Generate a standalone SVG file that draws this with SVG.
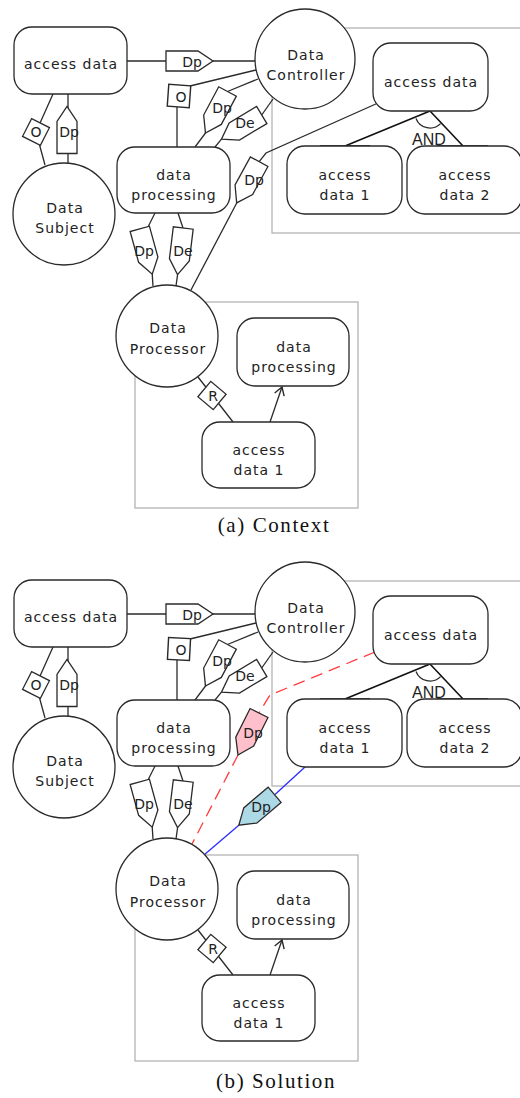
<svg xmlns="http://www.w3.org/2000/svg" xmlns:xlink="http://www.w3.org/1999/xlink" width="520" height="1098" viewBox="0 0 520 1098">
<defs>
<style>
.bnd{fill:none;stroke:#b4b4b4;stroke-width:1.3}
.nd{fill:#fff;stroke:#2a2a2a;stroke-width:1.3}
.ln{fill:none;stroke:#2a2a2a;stroke-width:1.3}
.andl{fill:none;stroke:#111;stroke-width:1.6}
.red{fill:none;stroke:#ff3b3b;stroke-width:1.3;stroke-dasharray:12 7}
.blue{fill:none;stroke:#2b2bff;stroke-width:1.3}
.pk{fill:#ffc0cb;stroke:#2a2a2a;stroke-width:1.3}
.lb{fill:#add8e6;stroke:#2a2a2a;stroke-width:1.3}
.lbl{font-family:"DejaVu Sans",sans-serif;font-size:14px;letter-spacing:1px;fill:#222;text-anchor:middle}
.dl{font-family:"DejaVu Sans",sans-serif;font-size:14px;fill:#222;text-anchor:middle}
.and{font-family:"Liberation Sans",sans-serif;font-size:16px;fill:#222;text-anchor:middle}
.cap{font-family:"Liberation Serif",serif;font-size:21px;letter-spacing:1.6px;fill:#111;text-anchor:middle}
</style>
<polygon id="pent" points="-23.5,-10 8.5,-10 23.5,0 8.5,10 -23.5,10"/>
<rect id="sq" x="-10" y="-10" width="20" height="20"/>
<marker id="open" viewBox="-10 -6 12 12" refX="0" refY="0" markerWidth="12" markerHeight="12" markerUnits="userSpaceOnUse" orient="auto">
<path d="M-8,-5 L0,0 L-8,5" fill="none" stroke="#2a2a2a" stroke-width="1.4"/>
</marker>
</defs>
<rect width="520" height="1098" fill="#fff"/>

<!-- ===== Diagram (a) ===== -->
<g id="diagram-a">
<g id="a-boundaries">
<rect class="bnd" x="272" y="28" width="260" height="205"/>
<rect class="bnd" x="135" y="302" width="223" height="206"/>
</g>
<g id="a-connectors">
<line class="ln" x1="127" y1="61" x2="255" y2="61"/>
<polyline class="ln" points="53,94 36,132 45,165"/>
<line class="ln" x1="68" y1="94" x2="68" y2="165"/>
<line class="ln" x1="177" y1="147" x2="177" y2="107"/>
<line class="ln" x1="190" y1="86" x2="256" y2="70"/>
<line class="ln" x1="195" y1="147" x2="205.5" y2="133"/>
<line class="ln" x1="227.5" y1="91.5" x2="258" y2="79"/>
<line class="ln" x1="215" y1="147" x2="221.5" y2="139.2"/>
<line class="ln" x1="261.7" y1="115" x2="273" y2="99"/>
<line class="ln" x1="236.7" y1="203" x2="191" y2="290"/>
<polyline class="ln" points="259.2,161.7 266,153 378,103"/>
<line class="ln" x1="155" y1="213" x2="148" y2="227"/>
<line class="ln" x1="152.2" y1="274.1" x2="153" y2="286"/>
<line class="ln" x1="178" y1="213" x2="183" y2="228"/>
<line class="ln" x1="177.6" y1="274.7" x2="176" y2="286"/>
<line class="andl" x1="430" y1="111" x2="345" y2="146"/>
<line class="andl" x1="430" y1="111" x2="463" y2="146"/>
<line class="andl" x1="320" y1="146" x2="370" y2="146"/>
<line class="andl" x1="437" y1="146" x2="488" y2="146"/>
<path class="ln" d="M416,118.4 A15,15 0 0 0 440.6,123.6"/>
<line class="ln" x1="198" y1="377" x2="233" y2="422"/>
<line class="ln" x1="270" y1="422" x2="282" y2="387" marker-end="url(#open)"/>
</g>
<g id="a-access-data"><rect class="nd" x="14" y="27" width="113" height="67" rx="18"/><text class="lbl" x="71" y="69">access data</text></g>
<g id="a-data-subject"><circle class="nd" cx="64" cy="214" r="51"/><text class="lbl" x="65" y="213">Data</text><text class="lbl" x="65" y="233">Subject</text></g>
<g id="a-data-controller"><circle class="nd" cx="305" cy="59" r="50"/><text class="lbl" x="306" y="60">Data</text><text class="lbl" x="306" y="80">Controller</text></g>
<g id="a-data-processing"><rect class="nd" x="117" y="147" width="113" height="66" rx="18"/><text class="lbl" x="174" y="180">data</text><text class="lbl" x="174" y="200">processing</text></g>
<g id="a-access-data-r"><rect class="nd" x="373" y="43" width="115" height="68" rx="18"/><text class="lbl" x="431" y="87">access data</text></g>
<g id="a-access-data-1"><rect class="nd" x="287" y="146" width="115" height="68" rx="18"/><text class="lbl" x="345" y="180">access</text><text class="lbl" x="345" y="200">data 1</text></g>
<g id="a-access-data-2"><rect class="nd" x="407" y="146" width="115" height="68" rx="18"/><text class="lbl" x="465" y="180">access</text><text class="lbl" x="465" y="200">data 2</text></g>
<g id="a-and"><text class="and" x="429" y="145">AND</text></g>
<g id="a-data-processor"><circle class="nd" cx="167" cy="336" r="51"/><text class="lbl" x="168" y="333">Data</text><text class="lbl" x="168" y="354">Processor</text></g>
<g id="a-data-processing-p"><rect class="nd" x="237" y="318" width="112" height="68" rx="18"/><text class="lbl" x="294" y="352">data</text><text class="lbl" x="294" y="372">processing</text></g>
<g id="a-access-data-1-p"><rect class="nd" x="202" y="422" width="113" height="66" rx="18"/><text class="lbl" x="259" y="455">access</text><text class="lbl" x="259" y="475">data 1</text></g>
<g id="a-dep-dp-h"><use href="#pent" class="nd" transform="translate(189.5,61)"/><text class="dl" x="192" y="67">Dp</text></g>
<g id="a-dep-dp-ds"><use href="#pent" class="nd" transform="translate(67,130) rotate(-90)"/><text class="dl" x="69" y="137">Dp</text></g>
<g id="a-dep-o-ds"><use href="#sq" class="nd" transform="translate(36,132) rotate(27)"/><text class="dl" x="36" y="137">O</text></g>
<g id="a-dep-o-dp"><use href="#sq" class="nd" transform="translate(179,96) rotate(4) scale(1.1)"/><text class="dl" x="181" y="102">O</text></g>
<g id="a-dep-dp-c"><use href="#pent" class="nd" transform="translate(216.5,112.2) rotate(118)"/><text class="dl" x="222" y="113">Dp</text></g>
<g id="a-dep-de-c"><use href="#pent" class="nd" transform="translate(241.6,127.1) rotate(149)"/><text class="dl" x="245" y="128">De</text></g>
<g id="a-dep-dp-ad"><use href="#pent" class="nd" transform="translate(247.9,182.3) rotate(118.6)"/><text class="dl" x="254" y="185">Dp</text></g>
<g id="a-dep-dp-b"><use href="#pent" class="nd" transform="translate(146,251.5) rotate(74.6)"/><text class="dl" x="144" y="256">Dp</text></g>
<g id="a-dep-de-b"><use href="#pent" class="nd" transform="translate(180.4,251.3) rotate(97)"/><text class="dl" x="183" y="256">De</text></g>
<g id="a-dep-r"><use href="#sq" class="nd" transform="translate(212,395.5) rotate(40)"/><text class="dl" x="213" y="401">R</text></g>
</g>
<text class="cap" x="274" y="532">(a) Context</text>

<!-- ===== Diagram (b) ===== -->
<g id="diagram-b" transform="translate(0,553)">
<g id="b-boundaries">
<rect class="bnd" x="272" y="28" width="260" height="205"/>
<rect class="bnd" x="135" y="302" width="223" height="206"/>
</g>
<g id="b-connectors">
<line class="ln" x1="127" y1="61" x2="255" y2="61"/>
<polyline class="ln" points="53,94 36,132 45,165"/>
<line class="ln" x1="68" y1="94" x2="68" y2="165"/>
<line class="ln" x1="177" y1="147" x2="177" y2="107"/>
<line class="ln" x1="190" y1="86" x2="256" y2="70"/>
<line class="ln" x1="195" y1="147" x2="205.5" y2="133"/>
<line class="ln" x1="227.5" y1="91.5" x2="258" y2="79"/>
<line class="ln" x1="215" y1="147" x2="221.5" y2="139.2"/>
<line class="ln" x1="261.7" y1="115" x2="273" y2="99"/>
<line class="ln" x1="155" y1="213" x2="148" y2="227"/>
<line class="ln" x1="152.2" y1="274.1" x2="153" y2="286"/>
<line class="ln" x1="178" y1="213" x2="183" y2="228"/>
<line class="ln" x1="177.6" y1="274.7" x2="176" y2="286"/>
<line class="andl" x1="430" y1="111" x2="345" y2="146"/>
<line class="andl" x1="430" y1="111" x2="463" y2="146"/>
<line class="andl" x1="320" y1="146" x2="370" y2="146"/>
<line class="andl" x1="437" y1="146" x2="488" y2="146"/>
<path class="ln" d="M416,118.4 A15,15 0 0 0 440.6,123.6"/>
<line class="ln" x1="198" y1="377" x2="233" y2="422"/>
<line class="ln" x1="270" y1="422" x2="282" y2="387" marker-end="url(#open)"/>
<polyline class="red" points="375,99 270,142 259,160"/>
<line class="red" x1="238" y1="202" x2="192" y2="291"/>
<line class="blue" x1="305" y1="214" x2="275" y2="241.5"/>
<line class="blue" x1="238.8" y1="272.2" x2="204" y2="302"/>
</g>
<g id="b-access-data"><rect class="nd" x="14" y="27" width="113" height="67" rx="18"/><text class="lbl" x="71" y="69">access data</text></g>
<g id="b-data-subject"><circle class="nd" cx="64" cy="214" r="51"/><text class="lbl" x="65" y="213">Data</text><text class="lbl" x="65" y="233">Subject</text></g>
<g id="b-data-controller"><circle class="nd" cx="305" cy="59" r="50"/><text class="lbl" x="306" y="60">Data</text><text class="lbl" x="306" y="80">Controller</text></g>
<g id="b-data-processing"><rect class="nd" x="117" y="147" width="113" height="66" rx="18"/><text class="lbl" x="174" y="180">data</text><text class="lbl" x="174" y="200">processing</text></g>
<g id="b-access-data-r"><rect class="nd" x="373" y="43" width="115" height="68" rx="18"/><text class="lbl" x="431" y="87">access data</text></g>
<g id="b-access-data-1"><rect class="nd" x="287" y="146" width="115" height="68" rx="18"/><text class="lbl" x="345" y="180">access</text><text class="lbl" x="345" y="200">data 1</text></g>
<g id="b-access-data-2"><rect class="nd" x="407" y="146" width="115" height="68" rx="18"/><text class="lbl" x="465" y="180">access</text><text class="lbl" x="465" y="200">data 2</text></g>
<g id="b-and"><text class="and" x="429" y="145">AND</text></g>
<g id="b-data-processor"><circle class="nd" cx="167" cy="336" r="51"/><text class="lbl" x="168" y="333">Data</text><text class="lbl" x="168" y="354">Processor</text></g>
<g id="b-data-processing-p"><rect class="nd" x="237" y="318" width="112" height="68" rx="18"/><text class="lbl" x="294" y="352">data</text><text class="lbl" x="294" y="372">processing</text></g>
<g id="b-access-data-1-p"><rect class="nd" x="202" y="422" width="113" height="66" rx="18"/><text class="lbl" x="259" y="455">access</text><text class="lbl" x="259" y="475">data 1</text></g>
<g id="b-dep-dp-h"><use href="#pent" class="nd" transform="translate(189.5,61)"/><text class="dl" x="192" y="67">Dp</text></g>
<g id="b-dep-dp-ds"><use href="#pent" class="nd" transform="translate(67,130) rotate(-90)"/><text class="dl" x="69" y="137">Dp</text></g>
<g id="b-dep-o-ds"><use href="#sq" class="nd" transform="translate(36,132) rotate(27)"/><text class="dl" x="36" y="137">O</text></g>
<g id="b-dep-o-dp"><use href="#sq" class="nd" transform="translate(179,96) rotate(3) scale(1.1)"/><text class="dl" x="181" y="102">O</text></g>
<g id="b-dep-dp-c"><use href="#pent" class="nd" transform="translate(216.5,112.2) rotate(118)"/><text class="dl" x="222" y="113">Dp</text></g>
<g id="b-dep-de-c"><use href="#pent" class="nd" transform="translate(241.6,127.1) rotate(149)"/><text class="dl" x="245" y="128">De</text></g>
<g id="b-dep-dp-pink"><use href="#pent" class="pk" transform="translate(248.5,181) rotate(116.6)"/><text class="dl" x="253" y="185">Dp</text></g>
<g id="b-dep-dp-blue"><use href="#pent" class="lb" transform="translate(256.7,257) rotate(139.6)"/><text class="dl" x="261" y="259">Dp</text></g>
<g id="b-dep-dp-b"><use href="#pent" class="nd" transform="translate(146,251.5) rotate(74.6)"/><text class="dl" x="144" y="256">Dp</text></g>
<g id="b-dep-de-b"><use href="#pent" class="nd" transform="translate(180.4,251.3) rotate(97)"/><text class="dl" x="183" y="256">De</text></g>
<g id="b-dep-r"><use href="#sq" class="nd" transform="translate(212,395.5) rotate(40)"/><text class="dl" x="213" y="401">R</text></g>
</g>
<text class="cap" x="276" y="1088">(b) Solution</text>
</svg>
